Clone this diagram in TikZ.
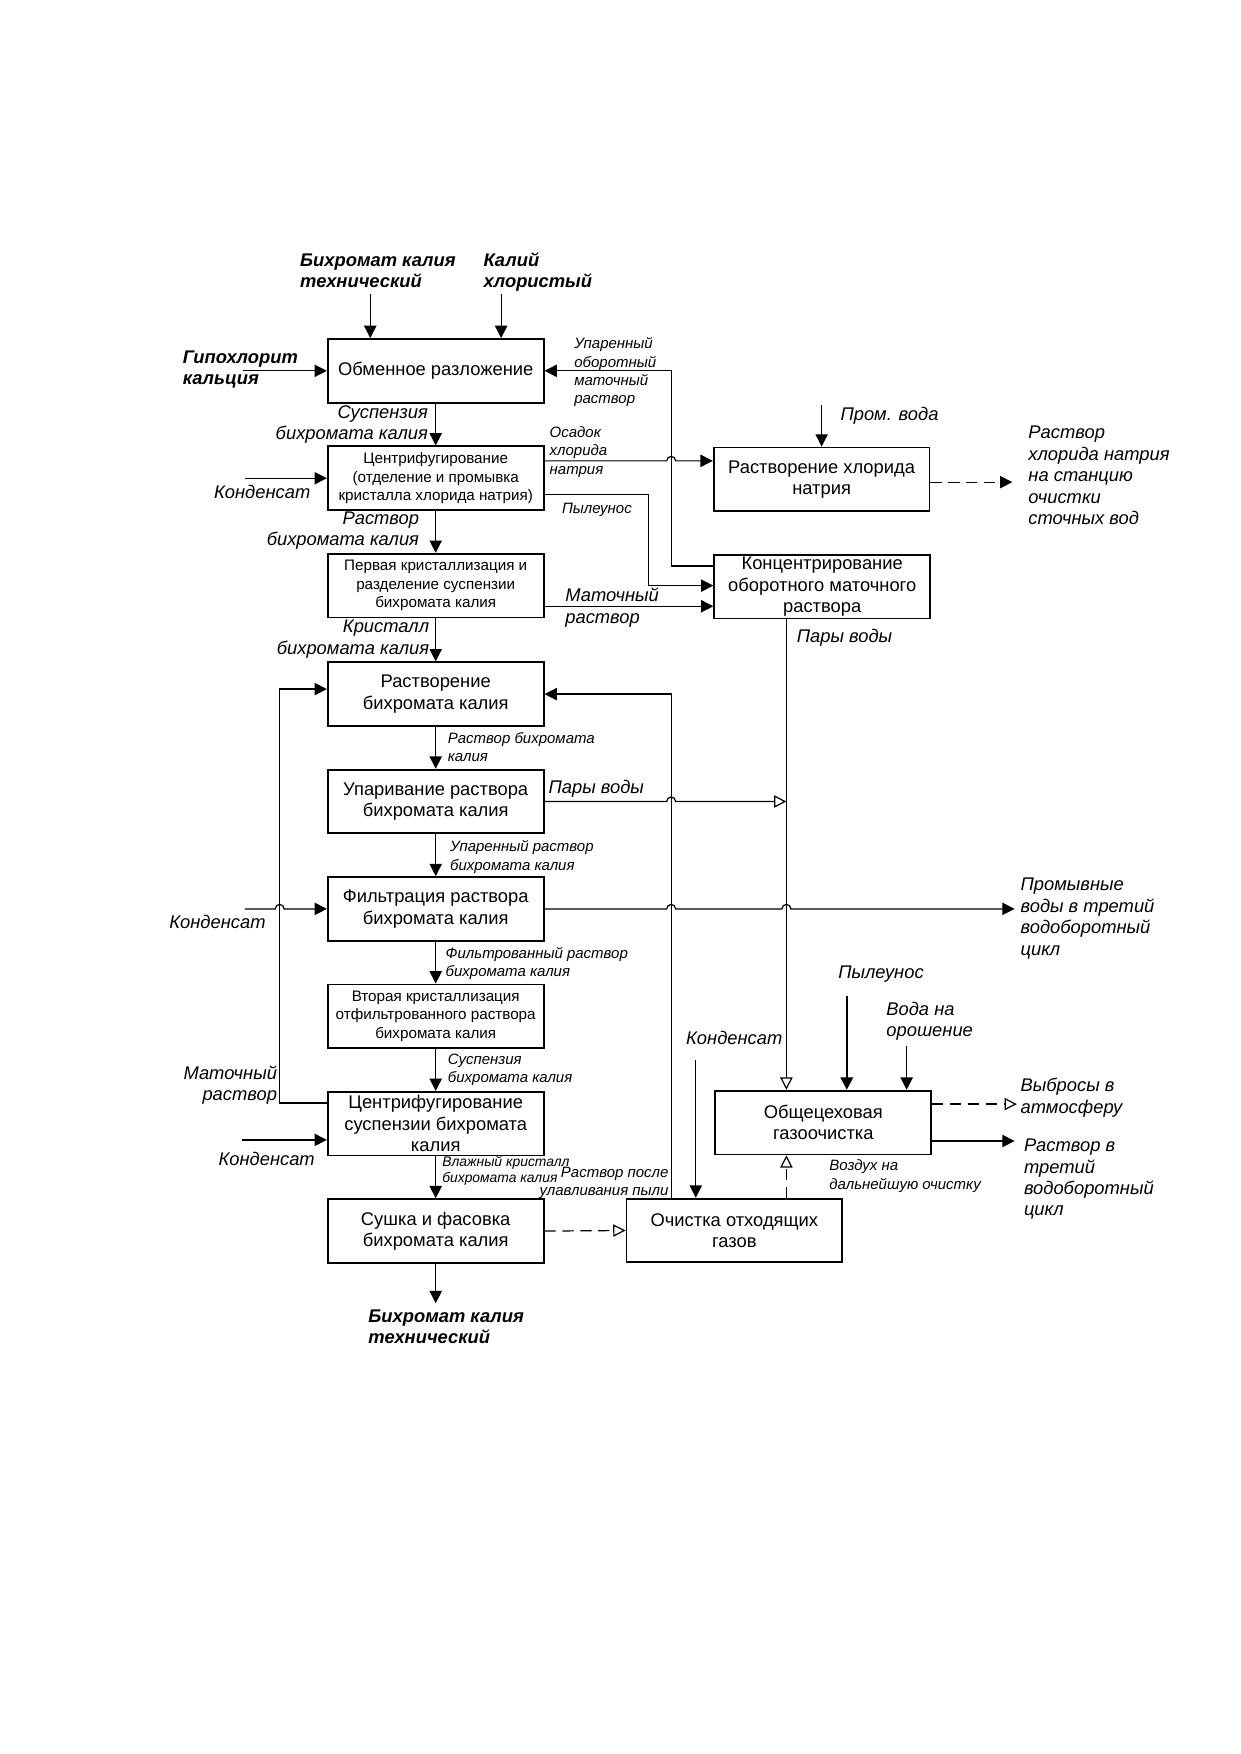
\documentclass[tikz,border=0pt]{standalone}
\usepackage{fontspec}
\setmainfont{Liberation Sans}
\usetikzlibrary{arrows.meta}

\newcommand\bigtxt{\fontsize{8.2}{9.6}\selectfont}
\newcommand\midtxt{\fontsize{6.8}{8.2}\selectfont}
\newcommand\smalltxt{\fontsize{6.7}{8.2}\selectfont\itshape}
\newcommand\tinytxt{\fontsize{6.2}{7.2}\selectfont\itshape}

\tikzset{
  proc/.style={draw, line width=0.8pt, align=center, minimum width=96.5pt,
    minimum height=28.5pt, inner sep=0.5pt, font=\bigtxt},
  proc small/.style={proc, font=\midtxt},
  lbl/.style={align=left, inner sep=0pt, font=\bigtxt\itshape},
  bold lbl/.style={lbl, font=\bigtxt\bfseries\itshape},
  note/.style={align=left, inner sep=0pt, font=\smalltxt},
  flow/.style={line width=0.55pt, -{Triangle[length=5.5pt,width=5.5pt]}},
  gasflow/.style={line width=0.55pt, -{Triangle[open,length=5.5pt,width=5.5pt]}},
  dashes/.style={dash pattern=on 5pt off 3pt}
}

\begin{document}
\begin{tikzpicture}[x=0.5pt, y=-0.5pt]
  \useasboundingbox (0,0) rectangle (1109,1568);

  \node[proc] (obmen) at (389.5,331.5) {Обменное разложение};
  \node[proc small] (centr1) at (389.5,427.5) {Центрифугирование\\(отделение и промывка\\кристалла хлорида натрия)};
  \node[proc small] (kryst1) at (389.5,523.5) {Первая кристаллизация и\\разделение суспензии\\бихромата калия};
  \node[proc] (rastv) at (389.5,620.5) {Растворение\\бихромата калия};
  \node[proc] (upar) at (389.5,716.5) {Упаривание раствора\\бихромата калия};
  \node[proc] (filtr) at (389.5,812.5) {Фильтрация раствора\\бихромата калия};
  \node[proc small] (kryst2) at (389.5,908.5) {Вторая кристаллизация\\отфильтрованного раствора\\бихромата калия};
  \node[proc] (centr2) at (389.5,1004.5) {Центрифугирование\\суспензии бихромата\\калия};
  \node[proc] (sushka) at (389.5,1100.5) {Сушка и фасовка\\бихромата калия};
  \node[proc] (nacl) at (734.5,428.5) {Растворение хлорида\\натрия};
  \node[proc] (konc) at (735,524.5) {Концентрирование\\оборотного маточного\\раствора};
  \node[proc] (gaz) at (736,1003.5) {Общецеховая\\газоочистка};
  \node[proc] (ochist) at (656.5,1100) {Очистка отходящих\\газов};

  \node[bold lbl, anchor=base west] (l_bihr) at (268,257) {Бихромат калия\\технический};
  \node[bold lbl, anchor=base west] (l_kcl) at (432,257) {Калий\\хлористый};
  \node[bold lbl, anchor=base west] (l_gipo) at (163,344) {Гипохлорит\\кальция};
  \node[note, anchor=base west] (l_upar1) at (513,361) {Упаренный\\оборотный\\маточный\\раствор};
  \node[lbl, align=right, anchor=base east] (l_susp1) at (383,393) {Суспензия\\бихромата калия};
  \node[note, anchor=base west] (l_osad) at (491,424) {Осадок\\хлорида\\натрия};
  \node[note, anchor=base west] (l_pyl1) at (502,459) {Пылеунос};
  \node[lbl, anchor=base west] (l_kond1) at (191,446) {Конденсат};
  \node[lbl, align=right, anchor=base east] (l_rastv1) at (375,488) {Раствор\\бихромата калия};
  \node[lbl, anchor=base west] (l_mat1) at (505,557) {Маточный\\раствор};
  \node[lbl, align=right, anchor=base east] (l_kryst) at (384,585) {Кристалл\\бихромата калия};
  \node[lbl, anchor=base west] (l_promv) at (751,376) {Пром. вода};
  \node[lbl, anchor=base west] (l_nacl) at (919,469) {Раствор\\хлорида натрия\\на станцию\\очистки\\сточных вод};
  \node[lbl, anchor=base west] (l_pary1) at (712,574) {Пары воды};
  \node[note, anchor=base west] (l_rb) at (400,681) {Раствор бихромата\\калия};
  \node[lbl, anchor=base west] (l_pary2) at (490,709) {Пары воды};
  \node[note, anchor=base west] (l_uparr) at (402,778) {Упаренный раствор\\бихромата калия};
  \node[lbl, anchor=base west] (l_kond2) at (151,830) {Конденсат};
  \node[lbl, anchor=base west] (l_promyv) at (912,854) {Промывные\\воды в третий\\водоборотный\\цикл};
  \node[note, anchor=base west] (l_filtr) at (398,873) {Фильтрованный раствор\\бихромата калия};
  \node[note, anchor=base west] (l_susp2) at (400,968) {Суспензия\\бихромата калия};
  \node[lbl, align=right, anchor=base east] (l_mat2) at (248,984) {Маточный\\раствор};
  \node[lbl, anchor=base west] (l_kond3) at (195,1042) {Конденсат};
  \node[note, font=\tinytxt, anchor=base west] (l_vlazh) at (395,1057) {Влажный кристалл\\бихромата калия};
  \node[note, align=right, anchor=base east] (l_posle) at (598,1069) {Раствор после\\улавливания пыли};
  \node[bold lbl, anchor=base west] (l_prod) at (329,1201) {Бихромат калия\\технический};
  \node[lbl, anchor=base west] (l_pyl2) at (749,875) {Пылеунос};
  \node[lbl, anchor=base west] (l_voda) at (792,927) {Вода на\\орошение};
  \node[lbl, anchor=base west] (l_kond4) at (613,934) {Конденсат};
  \node[lbl, anchor=base west] (l_vybr) at (912,995) {Выбросы в\\атмосферу};
  \node[lbl, anchor=base west] (l_rvt) at (915,1087) {Раствор в\\третий\\водоборотный\\цикл};
  \node[note, anchor=base west] (l_vozd) at (741,1063) {Воздух на\\дальнейшую очистку};

  \coordinate (in_bihr) at (331,263);
  \coordinate (in_kcl) at (448,263);
  \coordinate (in_gipo) at (217,331.5);
  \coordinate (in_kond1) at (219,427.5);
  \coordinate (in_promv) at (734.5,362);
  \coordinate (out_nacl) at (905,431);
  \coordinate (in_kond2) at (219,812.5);
  \coordinate (out_promyv) at (907,812.5);
  \coordinate (in_kond3) at (216,1019);
  \coordinate (out_prod) at (389.5,1165);
  \coordinate (in_kond4) at (622,948);
  \coordinate (in_pyl) at (757,890);
  \coordinate (in_voda) at (810.5,935);
  \coordinate (out_vybr) at (909,987);
  \coordinate (out_rvt) at (907,1020);

  \draw[flow] (in_bihr) -- (obmen.north -| in_bihr);
  \draw[flow] (in_kcl) -- (obmen.north -| in_kcl);
  \draw[flow] (in_gipo) -- (obmen.west);
  \draw[flow] (obmen.south) -- (centr1.north);
  \draw[flow] (centr1.south) -- (kryst1.north);
  \draw[flow] (kryst1.south) -- (rastv.north);
  \draw[flow] (rastv.south) -- (upar.north);
  \draw[flow] (upar.south) -- (filtr.north);
  \draw[flow] (filtr.south) -- (kryst2.north);
  \draw[flow] (kryst2.south) -- (centr2.north);
  \draw[flow] (centr2.south) -- (sushka.north);
  \draw[flow] (sushka.south) -- (out_prod);

  \draw[flow] (in_kond1) -- (centr1.west);
  \draw[flow] (centr1.east |- 0,412) -- (596,412)
    arc[start angle=180, end angle=0, radius=2pt] -- (nacl.west |- 0,412);
  \draw[flow] (centr1.east |- 0,442) -| (580,523.5) -- (konc.west |- 0,523.5);
  \draw[flow] (kryst1.east |- 0,542) -- (konc.west |- 0,542);
  \draw[flow] (konc.west |- 0,506) -| (600,331.5) -- (obmen.east);
  \draw[flow] (in_promv) -- (nacl.north);
  \draw[flow, dashes] (nacl.east |- out_nacl) -- (out_nacl);

  \draw[gasflow] (konc.south -| 703,0) -- (gaz.north -| 703,0);
  \draw[flow] (ochist.north -| 600,0) |- (rastv.east);
  \draw[flow] (centr2.west |- 0,986) -| (250,616) -- (rastv.west |- 0,616);
  \draw[gasflow] (upar.east) -- (596,716.5)
    arc[start angle=180, end angle=0, radius=2pt] -- (upar.east -| 703,0);
  \draw[flow] (filtr.east) -- (596,812.5)
    arc[start angle=180, end angle=0, radius=2pt] -- (699,812.5)
    arc[start angle=180, end angle=0, radius=2pt] -- (out_promyv);
  \draw[flow] (in_kond2) -- (246,812.5)
    arc[start angle=180, end angle=0, radius=2pt] -- (filtr.west);
  \draw[flow] (in_kond3) -- (centr2.west |- in_kond3);

  \draw[gasflow, dashes] (sushka.east) -- (ochist.west);
  \draw[gasflow, dashes] (ochist.north -| 703,0) -- (gaz.south -| 703,0);
  \draw[flow] (in_kond4) -- (ochist.north -| in_kond4);
  \draw[flow, line width=1pt] (in_pyl) -- (gaz.north -| in_pyl);
  \draw[flow] (in_voda) -- (gaz.north -| in_voda);
  \draw[gasflow, dashes] (gaz.east |- out_vybr) -- (out_vybr);
  \draw[flow] (gaz.east |- out_rvt) -- (out_rvt);
\end{tikzpicture}
\end{document}
